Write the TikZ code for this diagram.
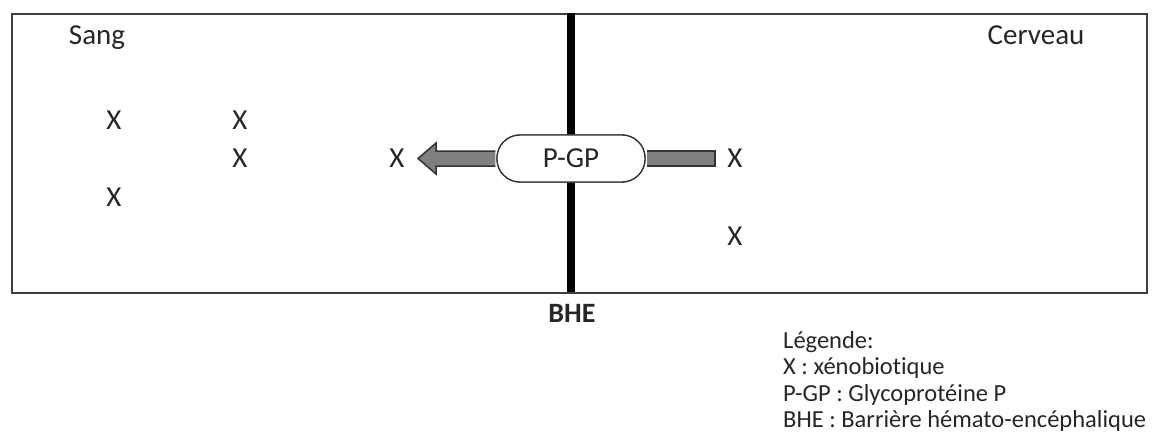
\documentclass[tikz,border=0pt]{standalone}
\usepackage{fontspec}
\setmainfont[Ligatures={NoCommon}]{Carlito}
\begin{document}
\begin{tikzpicture}[x=1pt,y=-1pt,
  lab/.style={font=\fontsize{29}{32}\selectfont, text=black!85, inner sep=0pt},
  xeno/.style={lab, anchor=center},
  legend/.style={font=\fontsize{24.5}{25}\selectfont, text=black!85, align=left, inner sep=0pt, anchor=north west},
  frame/.style={draw=black!75, line width=2pt},
  barrier/.style={line width=8pt, black},
  pump/.style={draw=black!80, fill=white, line width=1.3pt, rounded corners=23pt, minimum width=148pt, minimum height=47pt, font=\fontsize{29}{32}\selectfont, text=black!85},
  flow/.style={draw=black!80, fill=black!50, line width=1.5pt, line join=miter}
]
\useasboundingbox (0,0) rectangle (1156,441);
% frame
\node[frame, minimum width=1135pt, minimum height=279pt, inner sep=0pt, anchor=north west] (box) at (11,13) {};
% barrier
\coordinate (btop) at (571,13);
\coordinate (bbot) at (571,292);
\draw[barrier] (btop) -- (bbot);
% pump node
\node[pump] (pgp) at (571,158.5) {P-GP};
% labels
\node[lab, anchor=base] (sang) at (97,45) {Sang};
\node[lab, anchor=base] (cerveau) at (1036,45) {Cerveau};
\node[lab, anchor=base, font=\fontsize{28}{32}\selectfont\bfseries] (bhe) at (572,322) {BHE};
% xenobiotics
\node[xeno] (x1) at (114,120) {X};
\node[xeno] (x2) at (240,120) {X};
\node[xeno] (x3) at (240,158) {X};
\node[xeno] (x4) at (114,197) {X};
\node[xeno] (xout) at (397,158) {X};
\node[xeno] (xin) at (735,158) {X};
\node[xeno] (x7) at (735,236) {X};
% right bar (into pump)
\coordinate (rbar) at (715,158.5);
\draw[flow] ([xshift=1pt]pgp.east |- 0,151) -- (rbar |- 0,151) -- (rbar |- 0,166) -- ([xshift=1pt]pgp.east |- 0,166);
% left arrow (out of pump)
\coordinate (tip) at (418,158.5);
\draw[flow] ([xshift=-1pt]pgp.west |- 0,151) -- (436,151) -- (436,143) -- (tip) -- (436,174) -- (436,166) -- ([xshift=-1pt]pgp.west |- 0,166);
% redraw pump on top
\node[pump] at (pgp) {P-GP};
% legend
\node[legend] (leg) at (783,331) {Légende:\\[1.5pt]X : xénobiotique\\[1.5pt]P-GP : Glycoprotéine P\\[1.5pt]BHE : Barrière hémato-encéphalique};
\end{tikzpicture}
\end{document}
